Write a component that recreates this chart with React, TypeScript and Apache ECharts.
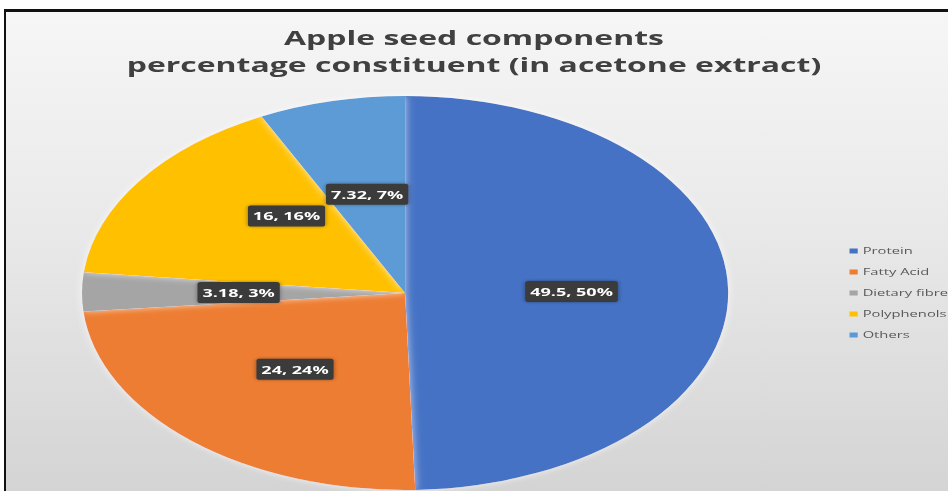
import React, { useEffect, useRef } from "react";
import * as echarts from "echarts";

const categories = ["Protein", "Fatty Acid", "Dietary fibre", "Polyphenols", "Others"];
const values = [49.5, 24, 3.18, 16, 7.32];
const colors = ["#4472C4", "#ED7D31", "#A5A5A5", "#FFC000", "#5B9BD5"];
const titleLines = ["Apple seed components", "percentage constituent (in acetone extract)"];

const SX = 1.64;
const PAGE_W = 948;
const PAGE_H = 491;

export default function App() {
  const ref = useRef<HTMLDivElement>(null);

  useEffect(() => {
    document.body.style.margin = "0";
    if (!ref.current) return;
    const chart = echarts.init(ref.current, undefined, { renderer: "svg" });
    const total = values.reduce((a, b) => a + b, 0);
    const data = categories.map((name, i) => ({
      name,
      value: values[i],
      itemStyle: { color: colors[i] },
      label: i === 3 ? { offset: [11, -19] } : undefined,
    }));
    chart.setOption({
      animation: false,
      backgroundColor: "transparent",
      title: {
        text: titleLines.join("\n"),
        left: "center",
        top: 19,
        textStyle: {
          fontFamily: "Open Sans",
          fontWeight: "bold",
          fontSize: 19.5,
          lineHeight: 27,
          color: "#404040",
        },
      },
      legend: {
        orient: "vertical",
        left: 513,
        top: 240,
        itemWidth: 5,
        itemHeight: 5,
        itemGap: 9,
        icon: "rect",
        textStyle: {
          fontFamily: "Open Sans",
          fontSize: 9,
          lineHeight: 12,
          color: "#595959",
          padding: [0, 0, 0, -2],
        },
        data: categories,
      },
      series: [
        {
          type: "pie",
          center: [247, 293],
          radius: 197,
          startAngle: 90,
          clockwise: true,
          avoidLabelOverlap: false,
          itemStyle: {
            borderWidth: 0,
            shadowBlur: 6,
            shadowColor: "rgba(255,255,255,0.7)",
          },
          label: {
            show: true,
            position: "inside",
            formatter: (p: any) => `${p.value}, ${Math.round((p.value / total) * 100)}%`,
            color: "#ffffff",
            fontFamily: "Open Sans",
            fontWeight: "bold",
            fontSize: 11,
            backgroundColor: "#3b3b3b",
            padding: [5, 3],
            borderRadius: 2,
            shadowBlur: 3,
            shadowColor: "rgba(0,0,0,0.4)",
          },
          labelLine: { show: false },
          emphasis: { disabled: true },
          data,
        },
      ],
    });
    return () => chart.dispose();
  }, []);

  return (
    <div
      style={{
        position: "fixed",
        left: 0,
        top: 0,
        width: PAGE_W,
        height: PAGE_H,
        overflow: "hidden",
        background: "#ffffff",
      }}
    >
      <div
        style={{
          position: "absolute",
          left: 4,
          top: 9,
          width: PAGE_W - 4,
          height: PAGE_H - 9,
          boxSizing: "border-box",
          borderLeft: "2px solid #111",
          borderTop: "3px solid #111",
          background: "linear-gradient(180deg, #f6f6f6 0%, #e9e9e9 45%, #d4d4d4 100%)",
        }}
      />
      <div
        ref={ref}
        style={{
          position: "absolute",
          left: 0,
          top: 0,
          width: PAGE_W / SX,
          height: PAGE_H,
          transform: `scaleX(${SX})`,
          transformOrigin: "0 0",
        }}
      />
    </div>
  );
}
